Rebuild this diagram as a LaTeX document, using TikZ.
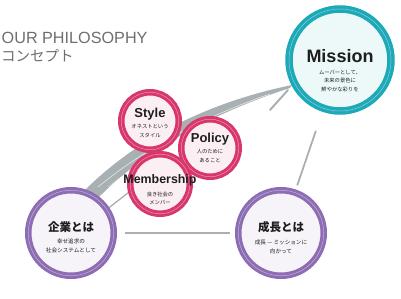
\documentclass[tikz,border=0pt]{standalone}
\usepackage{fontspec}
\setmainfont{Liberation Sans}
\newfontfamily\jpfont{Noto Sans CJK JP}
\usetikzlibrary{positioning,backgrounds}
\definecolor{missionteal}{HTML}{1EA9B8}
\definecolor{valuepink}{HTML}{D8376B}
\definecolor{basepurple}{HTML}{8C6DB3}
\definecolor{linkgrey}{HTML}{A8B0B4}
\definecolor{inkblack}{HTML}{1E1E1E}
\definecolor{titlegrey}{HTML}{6E6E6E}
\tikzset{
  ring/.style={circle, draw=#1, fill=#1!8, line width=3pt, double=#1!55!white, double distance=0.5pt, inner sep=0pt},
  headtext/.style={inner sep=0pt, anchor=base, text=inkblack, font=\bfseries\fontsize{13}{13}\selectfont},
  jphead/.style={inner sep=0pt, anchor=base, text=inkblack, font=\jpfont\bfseries\fontsize{11.5}{12}\selectfont},
  subtext/.style={inner sep=0pt, align=center, text=inkblack, font=\jpfont\fontsize{5.3}{8.2}\selectfont},
  brush/.style={draw=linkgrey, line cap=round},
  link/.style={draw=linkgrey, line width=1.8pt}
}
\begin{document}
\begin{tikzpicture}[x=1pt,y=-1pt]
\useasboundingbox (0,0) rectangle (401,299);

\node[inner sep=0pt, anchor=base west, text=titlegrey, font=\fontsize{16.2}{16}\selectfont] (title) at (1.5,43.5) {OUR PHILOSOPHY};
\node[inner sep=0pt, anchor=base west, text=titlegrey, font=\jpfont\fontsize{14.5}{15}\selectfont] (subtitle) at (1,61.5) {コンセプト};

% circles
\node[ring=missionteal, minimum size=102pt, line width=3.5pt] (mission) at (340,60) {};
\node[ring=basepurple, minimum size=85.5pt] (kigyo) at (71,233) {};
\node[ring=basepurple, minimum size=85.5pt] (seicho) at (281,233) {};
\node[ring=valuepink, minimum size=57.5pt] (style) at (150,121) {};
\node[ring=valuepink, minimum size=57.5pt] (policy) at (210,148) {};
\node[ring=valuepink, minimum size=59.5pt] (member) at (160,184) {};

% texts
\node[headtext, font=\bfseries\fontsize{18}{18}\selectfont] (missionhd) at ([yshift=-3pt]mission.center) {Mission};
\node[subtext] (missionsub) at ([yshift=-21pt]mission.center) {ムーバーとして、\\未来の景色に\\鮮やかな彩りを};
\node[headtext] (stylehd) at ([yshift=3pt]style.center) {Style};
\node[subtext] (stylesub) at ([yshift=-10pt]style.center) {オネストという\\スタイル};
\node[headtext] (policyhd) at ([yshift=5pt]policy.center) {Policy};
\node[subtext] (policysub) at ([yshift=-8pt]policy.center) {人のために\\あること};
\node[headtext, font=\bfseries\fontsize{12.4}{13}\selectfont] (memberhd) at ([yshift=1pt]member.center) {Membership};
\node[subtext] (membersub) at ([yshift=-14.5pt]member.center) {良き社会の\\メンバー};
\node[jphead] (kigyohd) at ([yshift=2pt]kigyo.center) {企業とは};
\node[subtext, font=\jpfont\fontsize{5.6}{8.8}\selectfont] (kigyosub) at ([yshift=-12.5pt]kigyo.center) {幸せ追求の\\社会システムとして};
\node[jphead] (seichohd) at ([yshift=2pt]seicho.center) {成長とは};
\node[subtext, font=\jpfont\fontsize{5.6}{8.8}\selectfont] (seichosub) at ([yshift=-13.5pt]seicho.center) {成長 — ミッションに\\向かって};

% connectors
\begin{scope}[on background layer]
\coordinate (tip) at (292,85);
\fill[linkgrey] (84,191) .. controls (132,143) and (200,104) .. (tip)
  -- (290,88) .. controls (215,112) and (145,150) .. (98,198) -- cycle;
\draw[white, line width=0.6pt, opacity=0.7] (98,187) .. controls (140,152) and (200,118) .. (270,94);
\draw[white, line width=0.4pt, opacity=0.6] (108,187) .. controls (150,154) and (205,123) .. (262,101);
\draw[brush, line width=1.3pt] (106,210) -- (142,182);
\draw[brush, line width=2pt] (288,90) -- (270,110);
\end{scope}
\draw[link, shorten <=10pt, shorten >=7pt] (kigyo) -- (seicho);
\draw[link, shorten <=6pt, shorten >=22pt] (seicho) -- (mission);
\end{tikzpicture}
\end{document}
